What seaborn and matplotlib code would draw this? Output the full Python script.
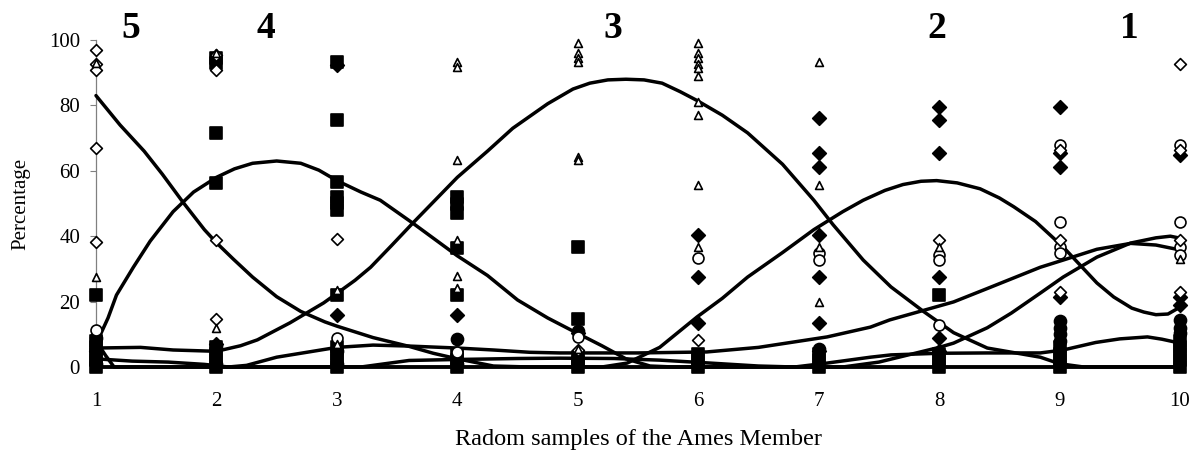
import matplotlib
matplotlib.use("Agg")
import matplotlib.pyplot as plt
import seaborn as sns

# ---------------------------------------------------------------- data
sample_ticks = [1, 2, 3, 4, 5, 6, 7, 8, 9, 10]
pct_ticks = [0, 20, 40, 60, 80, 100]

# measured percentages per sample, grouped by symbol
open_diamond_x = [1, 1, 1, 1, 1, 2, 2, 2, 2, 3, 5, 6, 8, 9, 9, 9, 10, 10, 10, 10]
open_diamond_y = [96.9, 92.8, 90.8, 66.9, 38.3, 95.4, 90.8, 38.8, 14.6, 39.0, 5.2, 8.3,
                  38.8, 66.5, 38.8, 23.0, 92.8, 66.5, 38.8, 23.0]

open_triangle_x = [1, 1, 2, 2, 3, 3, 4, 4, 4, 4, 4, 4, 5, 5, 5, 5, 5, 5, 5,
                   6, 6, 6, 6, 6, 6, 6, 6, 6, 6, 7, 7, 7, 7, 8, 10]
open_triangle_y = [27.6, 93.0, 95.9, 11.8, 23.5, 6.9, 93.4, 91.8, 63.3, 38.8, 27.8, 24.2,
                   99.0, 95.9, 94.4, 93.4, 64.3, 63.3, 5.5,
                   99.0, 96.0, 94.4, 92.8, 91.3, 89.0, 81.1, 77.1, 55.7, 36.8,
                   93.4, 55.7, 36.8, 20.0, 36.8, 33.0]

filled_square_x = [1, 1, 1, 1, 1, 1,
                   2, 2, 2, 2, 2, 2, 2, 2,
                   3, 3, 3, 3, 3, 3, 3, 3, 3, 3, 3,
                   4, 4, 4, 4, 4, 4, 4, 4,
                   5, 5, 5, 5, 5,
                   6, 6, 6, 7, 7, 7, 8, 8, 8, 8,
                   9, 9, 9, 9, 10, 10, 10, 10, 10]
filled_square_y = [22.0, 8, 6, 4, 2, 0,
                   94.4, 93.0, 71.5, 56.2, 6, 4, 2, 0,
                   93.4, 75.5, 56.7, 52.1, 50.1, 48.0, 22.0, 6, 4, 2, 0,
                   52.1, 50.0, 47.0, 36.3, 22.0, 4, 2, 0,
                   36.8, 14.6, 3, 1.5, 0,
                   4, 2, 0, 4, 2, 0, 22.0, 4, 2, 0,
                   6, 4, 2, 0, 8, 6, 4, 2, 0]

filled_diamond_x = [1, 2, 3, 3, 4, 5, 6, 6, 6, 7, 7, 7, 7, 7, 7, 7,
                    8, 8, 8, 8, 8, 8, 9, 9, 9, 9, 10, 10, 10]
filled_diamond_y = [5.0, 7.0, 92.5, 15.9, 15.9, 10.3, 40.4, 27.6, 13.4,
                    76.0, 65.3, 61.2, 40.4, 27.6, 13.4, 5.0,
                    79.6, 75.5, 65.3, 27.6, 8.8, 5.0, 79.6, 65.3, 61.2, 21.5,
                    64.8, 21.5, 19.0]

open_circle_x = [1, 3, 4, 5, 6, 7, 7, 8, 8, 8, 9, 9, 9, 9, 10, 10, 10, 10]
open_circle_y = [11.3, 8.8, 4.7, 9.3, 33.2, 34.8, 32.8, 34.3, 32.8, 12.8,
                 67.9, 44.4, 36.8, 34.8, 67.9, 44.4, 36.8, 34.3]

filled_circle_x = [1, 1, 2, 2, 3, 3, 4, 4, 5, 7, 9, 9, 9, 9, 10, 10, 10]
filled_circle_y = [9.0, 1.0, 1.0, 6.5, 1.0, 5.0, 8.5, 1.0, 11.0, 5.5,
                   14.0, 12.0, 10.0, 8.0, 14.4, 12.0, 10.3]

# smoothed trend of each symbol group along the section
trend_a_x = [1, 1.2, 1.4, 1.55, 1.72, 1.9, 2.0, 2.14, 2.3, 2.5, 2.7, 2.9, 3.0, 3.3,
             3.6, 3.8, 4.0, 4.3, 4.6, 10]
trend_a_y = [83, 74, 66, 59, 50.5, 42, 38, 33, 27.5, 21.5, 17, 13.8, 12.5, 9,
             6.3, 4.2, 2.5, 0.3, 0, 0]

trend_b_x = [1, 1.1, 1.17, 1.31, 1.45, 1.64, 1.81, 2.0, 2.15, 2.3, 2.5, 2.7, 2.85,
             3.0, 3.2, 3.36, 3.63, 4.0, 4.25, 4.5, 4.75, 4.96, 5.2, 5.4, 5.6, 5.8, 10]
trend_b_y = [7, 15, 22, 30.5, 38.5, 47.5, 53.5, 58, 60.6, 62.3, 63, 62.3, 60.2,
             57, 53.5, 51, 44, 34, 28, 20.5, 15, 11, 6.5, 2.5, 0.3, 0, 0]

trend_c_x = [1, 1.37, 1.64, 2.0, 2.2, 2.34, 2.61, 2.89, 3.0, 3.15, 3.28, 3.45, 3.63,
             4.0, 4.25, 4.46, 4.75, 4.96, 5.1, 5.25, 5.4, 5.55, 5.7, 5.85, 5.99, 6.2,
             6.41, 6.7, 6.96, 7.12, 7.37, 7.6, 7.87, 8.12, 8.4, 8.84, 9.0, 9.2, 10]
trend_c_y = [5.8, 6, 5.2, 4.8, 6.5, 8.3, 13.5, 19.6, 22.5, 26.5, 30.5, 37, 44,
             58, 66, 73, 80.5, 85, 86.8, 87.8, 88, 87.8, 86.8, 84.2, 81.5, 77,
             71.6, 62, 51, 43.5, 32.7, 24.5, 17, 10.5, 5.8, 3, 1, 0, 0]

trend_d_x = [1, 5.2, 5.41, 5.68, 5.99, 6.2, 6.41, 6.7, 6.96, 7.2, 7.37, 7.55, 7.7,
             7.85, 7.98, 8.15, 8.34, 8.5, 8.62, 8.8, 9.03, 9.31, 9.45, 9.6, 9.7,
             9.8, 9.9, 10]
trend_d_y = [0, 0, 1.2, 6, 15.3, 21, 27.5, 35, 42, 47.5, 51, 54, 55.8,
             56.8, 57, 56.3, 54.5, 51.7, 49, 44.5, 36.7, 25.7, 21.4, 18, 16.8,
             16, 16.2, 18.3]

trend_e_x = [1, 1.3, 1.6, 1.9, 2.1, 2.25, 2.5, 2.75, 3.0, 3.3, 3.6, 4.0, 4.3, 4.6,
             4.85, 5.5, 6.07, 6.5, 7.07, 7.43, 7.59, 8.12, 8.4, 8.84, 9.03, 9.31,
             9.59, 9.8, 10]
trend_e_y = [2.5, 1.8, 1.5, 0.8, 0, 0.5, 3, 4.5, 6, 6.7, 6.4, 5.8, 5.2, 4.5,
             4.3, 4.3, 4.6, 6, 9.2, 12.2, 14.4, 19.9, 24, 30.5, 32.7, 36,
             37.8, 37.3, 35.8]

trend_f_x = [1, 7.2, 7.5, 8.0, 8.12, 8.4, 8.6, 8.84, 9.03, 9.31, 9.59, 9.8, 9.92, 10]
trend_f_y = [0, 0, 1.5, 6, 7.3, 12, 16.5, 22.6, 27.5, 33.6, 37.9, 39.5, 40, 39.4]

trend_g_x = [1, 1.08, 1.15, 3.2, 3.4, 3.6, 4.0, 4.5, 4.85, 5.3, 5.68, 6.1, 6.5, 6.8,
             7.07, 7.43, 7.6, 8.0, 8.4, 8.84, 9.03, 9.3, 9.5, 9.73, 9.85, 10]
trend_g_y = [8, 3.5, 0, 0, 1, 2, 2.3, 2.6, 2.7, 2.6, 2.1, 1.2, 0.3, 0,
             1.2, 3, 3.7, 4.2, 4.3, 4.3, 5.2, 7.5, 8.6, 9.2, 8.5, 7.3]

zone_labels = ["5", "4", "3", "2", "1"]
zone_x = [1.29, 2.41, 5.29, 7.98, 9.58]

# ---------------------------------------------------------------- style
sns.set_theme(style="white")
plt.rcParams["font.family"] = ["Liberation Serif", "DejaVu Serif"]

W, H = 1204, 453
fig = plt.figure(figsize=(W / 100, H / 100), dpi=100)
x0, x1, y0, y1 = 96, 1180, 367, 40
ax = fig.add_axes([x0 / W, 1 - y0 / H, (x1 - x0) / W, (y0 - y1) / H])
ax.set_facecolor("white")

# trend curves
for tx, ty in [(trend_a_x, trend_a_y), (trend_b_x, trend_b_y), (trend_c_x, trend_c_y),
               (trend_d_x, trend_d_y), (trend_e_x, trend_e_y), (trend_f_x, trend_f_y),
               (trend_g_x, trend_g_y)]:
    sns.lineplot(x=tx, y=ty, ax=ax, color="black", linewidth=2.5, sort=False,
                 estimator=None, clip_on=False, zorder=3)

# symbols
marker_specs = [
    (filled_square_x, filled_square_y, "s", 80, "black"),
    (filled_circle_x, filled_circle_y, "o", 75, "black"),
    (filled_diamond_x, filled_diamond_y, "D", 48, "black"),
    (open_circle_x, open_circle_y, "o", 62, "white"),
    (open_diamond_x, open_diamond_y, "D", 36, "white"),
    (open_triangle_x, open_triangle_y, "^", 32, "white"),
]
for mx, my, mk, size, face in marker_specs:
    sns.scatterplot(x=mx, y=my, ax=ax, marker=mk, s=size, color=face,
                    edgecolor="black", linewidth=1.2, clip_on=False, zorder=4,
                    legend=False)

# zone numbers above the plot
for lab, zx in zip(zone_labels, zone_x):
    ax.text(zx, 100.5, lab, ha="center", va="baseline", fontsize=27,
            fontweight="bold", color="black")

ax.set_xlim(1, 10)
ax.set_ylim(0, 100)
ax.set_xticks(sample_ticks)
ax.set_yticks(pct_ticks)
ax.tick_params(axis="y", direction="out", length=4.5, width=0.8, color="#808080",
               labelsize=15, pad=7, left=True, labelcolor="black")
ax.tick_params(axis="x", length=0, labelsize=15, pad=18, labelcolor="black")
for side in ["top", "right"]:
    ax.spines[side].set_visible(False)
for side in ["left", "bottom"]:
    ax.spines[side].set_color("#808080")
    ax.spines[side].set_linewidth(0.9)

ax.set_xlabel("Radom samples of the Ames Member", fontsize=17.5, labelpad=13, color="black")
ax.set_ylabel("Percentage", fontsize=15, labelpad=13, color="black")

fig.savefig("out.png", dpi=100, facecolor="white")
